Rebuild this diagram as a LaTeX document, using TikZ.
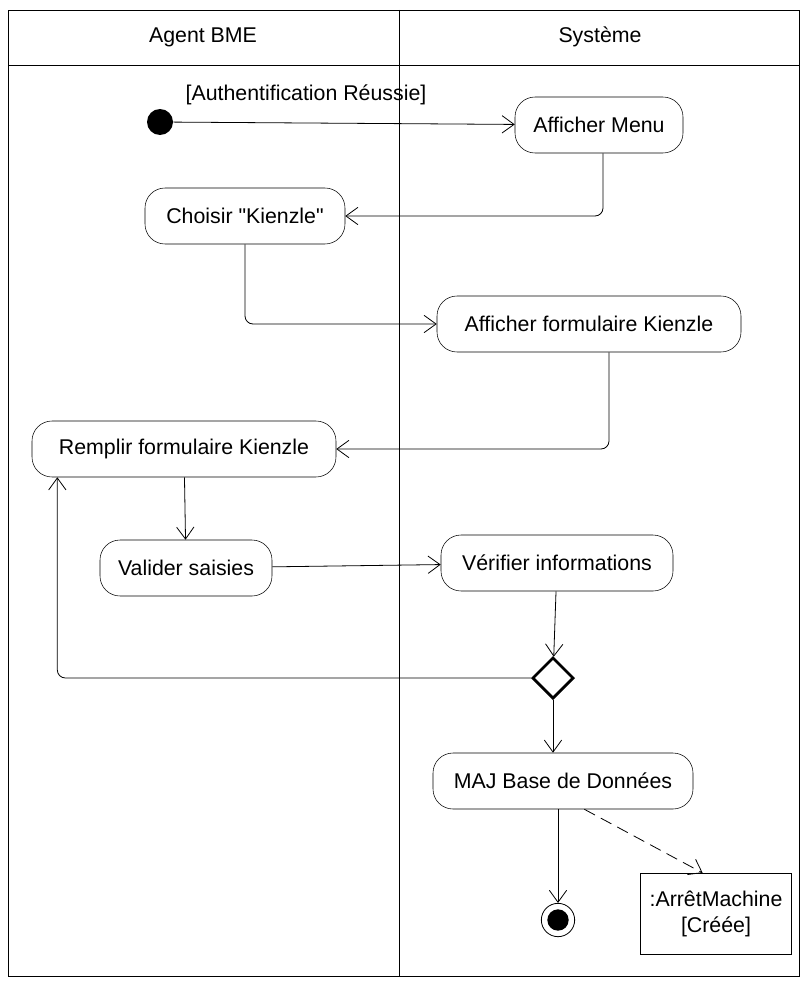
\documentclass[tikz,border=0pt]{standalone}
\usepackage{fontspec}
\setmainfont{Liberation Sans}
\usetikzlibrary{arrows.meta,shapes.geometric}

\begin{document}
\begin{tikzpicture}[x=0.75pt, y=-0.75pt,
    every node/.style={font=\fontsize{16}{19}\selectfont},
    act/.style={draw, rounded corners=15pt, minimum height=42pt, inner sep=2pt},
    flow/.style={-{Straight Barb[length=9pt,width=13pt]}, line width=0.6pt},
    lane/.style={line width=0.6pt}]
    \useasboundingbox (0,0) rectangle (800,981);

    % swimlanes
    \draw[lane] (8,10) rectangle (799,976);
    \draw[lane] (8,65) -- (799,65);
    \draw[lane] (399,10) -- (399,976);
    \node (agent) at (203,37) {Agent BME};
    \node (systeme) at (600,37) {Système};

    % activities
    \node[circle, fill, minimum size=19.5pt, inner sep=0pt] (start) at (160,122) {};
    \node (garde) at (306,95) {[Authentification Réussie]};
    \node[act, minimum width=126pt] (menu) at (599,125) {Afficher Menu};
    \node[act, minimum width=150pt] (choisir) at (245,216) {Choisir \textquotedbl Kienzle\textquotedbl};
    \node[act, minimum width=228pt] (form) at (589,324) {Afficher formulaire Kienzle};
    \node[act, minimum width=228pt] (remplir) at (184,449) {Remplir formulaire Kienzle};
    \node[act, minimum width=129pt] (valider) at (186,568) {Valider saisies};
    \node[act, minimum width=174pt] (verifier) at (557,563) {Vérifier informations};
    \node[diamond, draw, line width=2pt, minimum size=31pt, inner sep=0pt] (choix) at (553,678) {};
    \node[act, minimum width=195pt] (maj) at (563,781) {MAJ Base de Données};
    \node[circle, draw, line width=0.6pt, minimum size=25pt, inner sep=0pt] (fin) at (558,920) {};
    \node[circle, fill, minimum size=16pt, inner sep=0pt] at (fin) {};
    \node[draw, line width=0.6pt, minimum width=113pt, minimum height=61pt, align=center] (objet) at (716,914) {:ArrêtMachine\\{}[Créée]};

    % transitions
    \draw[flow] (start) -- (menu);
    \draw[flow, rounded corners=6pt] ([xshift=3pt]menu.south) |- (choisir.east);
    \draw[flow, rounded corners=6pt] (choisir.south) |- (form.west);
    \draw[flow, rounded corners=6pt] ([xshift=15pt]form.south) |- (remplir.east);
    \draw[flow] (remplir) -- (valider);
    \draw[flow] (valider) -- (verifier);
    \draw[flow] (verifier) -- (choix);
    \draw[flow, rounded corners=6pt] (choix.west) -| ([xshift=-95pt]remplir.south);
    \draw[flow] (choix) -- (choix |- maj.north);
    \draw[flow] (fin |- maj.south) -- (fin);
    \draw[flow, dashed, dash pattern=on 9pt off 5pt] ([xshift=16pt]maj.south) -- ([xshift=-10pt]objet.north);
\end{tikzpicture}
\end{document}
